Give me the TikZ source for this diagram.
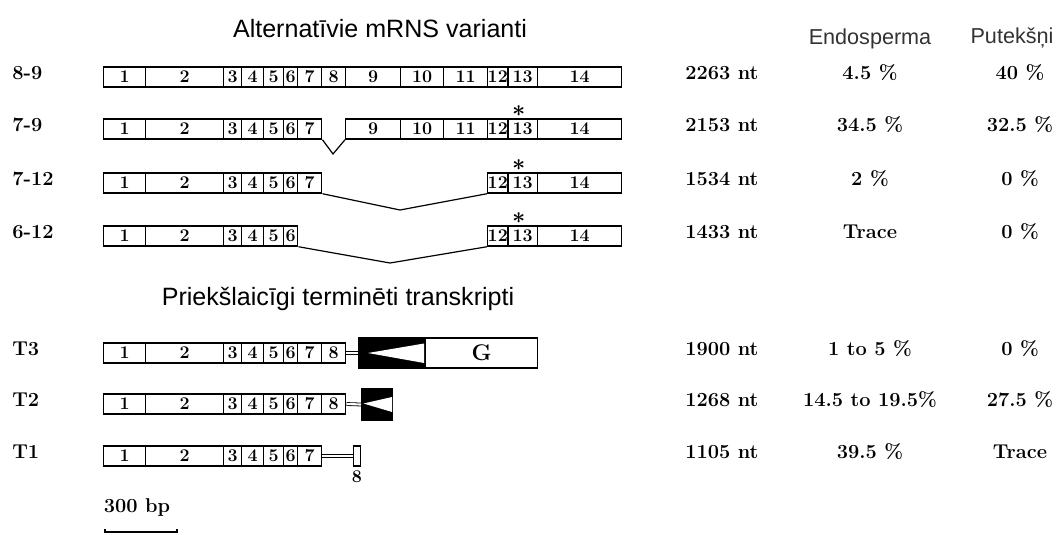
\documentclass[tikz,border=0pt]{standalone}
\usepackage{fontspec}
\newfontfamily\headsans{Liberation Sans}
\usetikzlibrary{calc}

% exon boundaries (left edge of exon 1 ... right edge of exon 14)
\def\bounds{103,145,223,241,263,283,297,321,345,400,443,487,507,537,621}

\tikzset{
  exon/.style={draw, line width=1.1pt, minimum height=15pt, inner sep=0pt,
    anchor=west, font=\bfseries\fontsize{13.4}{13.4}\selectfont},
  splice/.style={line width=0.9pt},
  val/.style={font=\bfseries\fontsize{15}{16}\selectfont, inner sep=0pt, anchor=mid},
  rowlbl/.style={font=\bfseries\fontsize{15}{16}\selectfont, inner sep=0pt, anchor=mid west},
  title/.style={font=\headsans\fontsize{18.8}{20}\selectfont, inner sep=0pt, anchor=base},
  colhead/.style={font=\headsans\fontsize{16.2}{17}\selectfont, inner sep=0pt,
    anchor=base, text=black!80},
  link/.style={double, double distance=1.6pt, line width=0.6pt},
  trunc/.style={draw, fill=black, line width=0.8pt, inner sep=0pt, anchor=west},
  stop/.style={font=\boldmath\fontsize{17}{17}\selectfont, inner sep=0pt},
}

% one transcript: #1 name prefix, #2 y of the row centre, #3 exons present
\newcommand\exonrow[3]{%
  \foreach \n in {#3} {
    \pgfmathsetmacro\xa{{\bounds}[\n-1]}
    \pgfmathsetmacro\xb{{\bounds}[\n]}
    \node[exon, minimum width={(\xb-\xa)*0.75pt}] (#1e\n) at (\xa,#2) {\n};
  }%
}

\begin{document}
\begin{tikzpicture}[x=0.75pt, y=-0.75pt]
\useasboundingbox[fill=white] (0,0) rectangle (1057,535);

% headings
\node[title] (ttop) at (380,38) {Alternatīvie mRNS varianti};
\node[title] (tbot) at (338,305) {Priekšlaicīgi terminēti transkripti};
\node[colhead] (hendo) at (870,45) {Endosperma};
\node[colhead] (hpoll) at (1012,44) {Putekšņi};

% alternative splice variants
\node[rowlbl] (l89) at (12,77) {8-9};
\exonrow{a}{77}{1,2,3,4,5,6,7,8,9,10,11,12,13,14}

\node[rowlbl] (l79) at (12,129) {7-9};
\exonrow{b}{129}{1,2,3,4,5,6,7,9,10,11,12,13,14}
\coordinate (bv) at (333,154);
\draw[splice] (be7.south east) -- (bv) -- (be9.south west);
\node[stop] (bs) at ($(be13.north)+(-4,-7)$) {$\ast$};

\node[rowlbl] (l712) at (12,183) {7-12};
\exonrow{c}{183}{1,2,3,4,5,6,7,12,13,14}
\coordinate (cv) at (400,210);
\draw[splice] (ce7.south east) -- (cv) -- (ce12.south west);
\node[stop] (cs) at ($(ce13.north)+(-4,-7)$) {$\ast$};

\node[rowlbl] (l612) at (12,236) {6-12};
\exonrow{d}{236}{1,2,3,4,5,6,12,13,14}
\coordinate (dv) at (390,263);
\draw[splice] (de6.south east) -- (dv) -- (de12.south west);
\node[stop] (ds) at ($(de13.north)+(-4,-7)$) {$\ast$};

% prematurely terminated transcripts
\node[rowlbl] (lt3) at (12,353) {T3};
\exonrow{t3}{353}{1,2,3,4,5,6,7,8}
\node[trunc, minimum width={67*0.75pt}, minimum height={30*0.75pt}] (t3blk) at (358,353) {};
\fill[white] ($(t3blk.east)+(-2,-9.5)$) -- ($(t3blk.east)+(-2,10)$)
  -- ($(t3blk.west)+(10,0)$) -- cycle;
\node[exon, line width=1pt, minimum width={112*0.75pt}, minimum height={30*0.75pt},
  font=\bfseries\fontsize{17}{17}\selectfont] (t3g) at (425,353) {G};
\draw[link] (t3e8.east) -- (t3blk.west);

\node[rowlbl] (lt2) at (12,404) {T2};
\exonrow{t2}{404}{1,2,3,4,5,6,7,8}
\node[trunc, minimum width={31*0.75pt}, minimum height={31*0.75pt}] (t2blk) at (361,404.5) {};
\fill[white] ($(t2blk.east)+(-1,-7.5)$) -- ($(t2blk.east)+(-1,7.5)$)
  -- ($(t2blk.west)+(2.5,-1)$) -- cycle;
\draw[link] (t2e8.east) -- (t2blk.west);

\node[rowlbl] (lt1) at (12,456) {T1};
\exonrow{t1}{456}{1,2,3,4,5,6,7}
\node[exon, line width=1pt, minimum width={7*0.75pt}, minimum height={20*0.75pt}] (t1e8) at (353,456) {};
\draw[link] (t1e7.east) -- (t1e8.west);
\node[val, font=\bfseries\fontsize{13.4}{13.4}\selectfont] (t1n8) at (357,480) {8};

% lengths and abundances
\foreach \y/\len/\endo/\poll [count=\i] in {
  77/2263 nt/4.5 \%/40 \%,
  129/2153 nt/34.5 \%/32.5 \%,
  183/1534 nt/2 \%/0 \%,
  236/1433 nt/Trace/0 \%,
  353/1900 nt/1 to 5 \%/0 \%,
  404/1268 nt/14.5 to 19.5\%/27.5 \%,
  456/1105 nt/39.5 \%/Trace} {
  \node[val, anchor=mid west] (len\i) at (685,\y) {\len};
  \node[val] (endo\i) at (870,\y) {\endo};
  \node[val] (poll\i) at (1020,\y) {\poll};
}

% scale bar
\node[val] (sbtxt) at (137,510) {300 bp};
\coordinate (sbL) at (105,532);
\coordinate (sbR) at (177,532);
\draw[line width=0.9pt] ($(sbL)+(0,-3)$) -- (sbL) -- (sbR) -- ++(0,-3);
\end{tikzpicture}
\end{document}
